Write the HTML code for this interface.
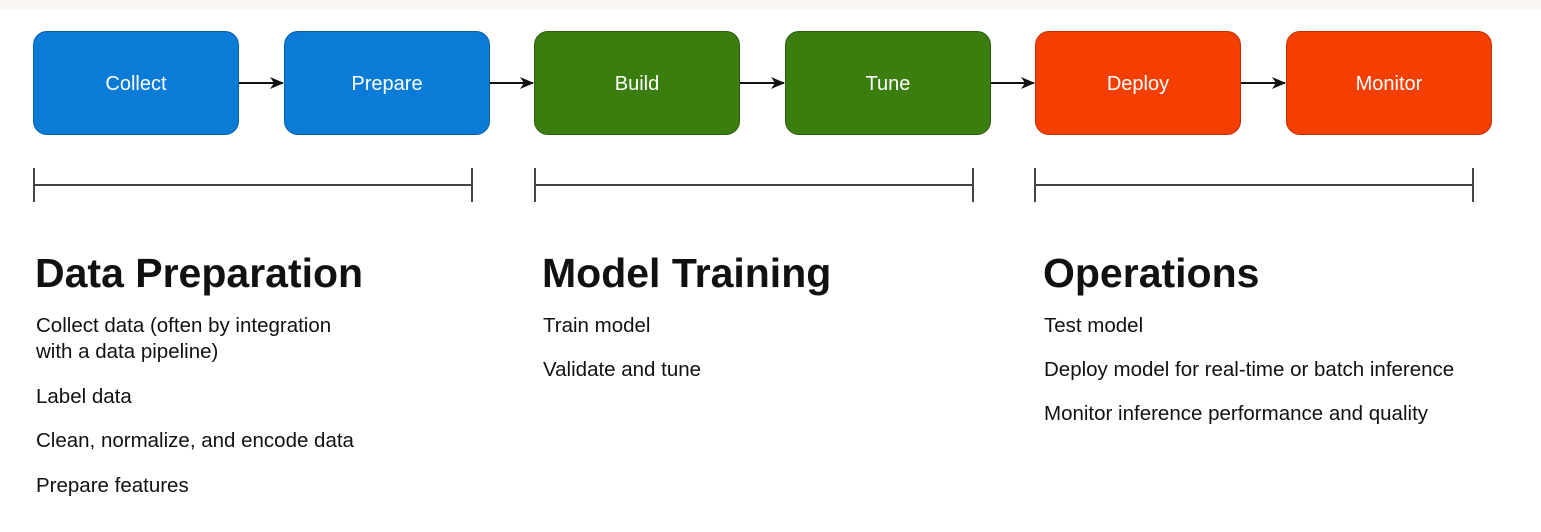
<!DOCTYPE html>
<html><head><style>
body{margin:0;width:1541px;height:532px;background:#fff;position:relative;overflow:hidden;font-family:"Liberation Sans",Arial,sans-serif}
.top{position:absolute;left:0;top:0;width:1541px;height:9px;background:#fcf7f4}
.b{position:absolute;top:31px;width:206px;height:104px;border-radius:14px;color:#fff;font-size:20px;display:flex;align-items:center;justify-content:center;box-sizing:border-box;padding-top:2px}
.bl{background:#0a7bd7;border:1.5px solid #0a5ea6}
.gr{background:#3b7e0f;border:1.5px solid #2a5e08}
.rd{background:#f43e02;border:1.5px solid #c23000}
h2{position:absolute;top:250px;margin:0;font-size:41px;font-weight:bold;color:#111}
.t{position:absolute;font-size:20.5px;color:#111;line-height:26px}
</style></head><body>
<div class="top"></div>
<div class="b bl" style="left:33px">Collect</div>
<div class="b bl" style="left:284px">Prepare</div>
<div class="b gr" style="left:534px">Build</div>
<div class="b gr" style="left:785px">Tune</div>
<div class="b rd" style="left:1035px">Deploy</div>
<div class="b rd" style="left:1286px">Monitor</div>
<svg style="position:absolute;left:0;top:0" width="1541" height="532">
<defs><marker id="a" markerWidth="14" markerHeight="14" refX="13" refY="7" orient="auto" markerUnits="userSpaceOnUse"><path d="M0,1 L14,7 L0,13 L4,7 Z" fill="#111"/></marker></defs>
<g stroke="#111" stroke-width="2" marker-end="url(#a)">
<line x1="239" y1="83" x2="283" y2="83"/><line x1="490" y1="83" x2="533" y2="83"/>
<line x1="740" y1="83" x2="784" y2="83"/><line x1="991" y1="83" x2="1034" y2="83"/>
<line x1="1241" y1="83" x2="1285" y2="83"/></g>
<g stroke="#444" stroke-width="2">
<line x1="34" y1="185" x2="472" y2="185"/><line x1="34" y1="168" x2="34" y2="202"/><line x1="472" y1="168" x2="472" y2="202"/>
<line x1="535" y1="185" x2="973" y2="185"/><line x1="535" y1="168" x2="535" y2="202"/><line x1="973" y1="168" x2="973" y2="202"/>
<line x1="1035" y1="185" x2="1473" y2="185"/><line x1="1035" y1="168" x2="1035" y2="202"/><line x1="1473" y1="168" x2="1473" y2="202"/>
</g></svg>
<h2 style="left:35px">Data Preparation</h2>
<h2 style="left:542px">Model Training</h2>
<h2 style="left:1043px">Operations</h2>
<div class="t" style="left:36px;top:313px">Collect data (often by integration<br>with a data pipeline)</div>
<div class="t" style="left:36px;top:384px">Label data</div>
<div class="t" style="left:36px;top:428px">Clean, normalize, and encode data</div>
<div class="t" style="left:36px;top:473px">Prepare features</div>
<div class="t" style="left:543px;top:313px">Train model</div>
<div class="t" style="left:543px;top:357px">Validate and tune</div>
<div class="t" style="left:1044px;top:313px">Test model</div>
<div class="t" style="left:1044px;top:357px">Deploy model for real-time or batch inference</div>
<div class="t" style="left:1044px;top:401px">Monitor inference performance and quality</div>
</body></html>
